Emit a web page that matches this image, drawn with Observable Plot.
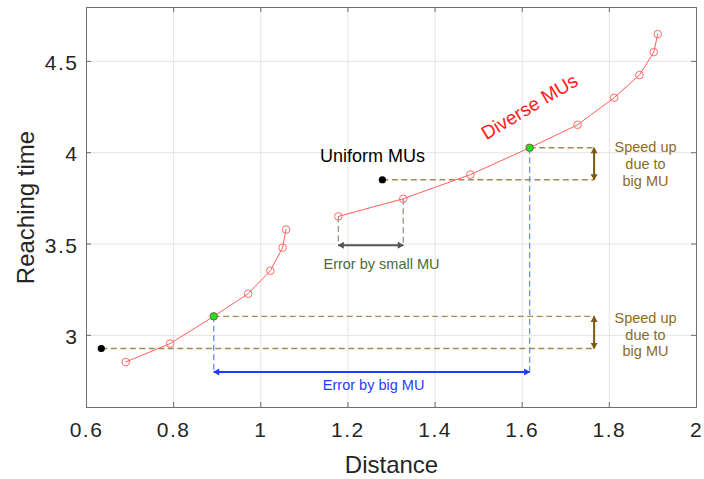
<!DOCTYPE html>
<html><head><meta charset="utf-8">
<script src="https://cdn.jsdelivr.net/npm/d3@7"></script>
<script src="https://cdn.jsdelivr.net/npm/@observablehq/plot@0.6"></script>
<style>
body{margin:0;background:#fff;}
#chart svg{display:block;}
g[aria-label="x-axis tick label"] text, g[aria-label="y-axis tick label"] text{letter-spacing:1.5px;}
g[aria-label="x-title"] text{letter-spacing:1px;}
g[aria-label="y-title"] text{letter-spacing:1.5px;}
</style></head><body><div id="chart"></div>
<script>
// ---- data ----
const xTicks = [0.6, 0.8, 1, 1.2, 1.4, 1.6, 1.8, 2];
const yTicks = [3, 3.5, 4, 4.5];

// Diverse MUs, first run (lower-left curve)
const firstDist = [0.690, 0.792, 0.892, 0.971, 1.022, 1.050, 1.058];
const firstTime = [2.854, 2.955, 3.104, 3.228, 3.354, 3.480, 3.579];
// Diverse MUs, second run (middle / upper-right curve)
const secondDist = [1.178, 1.327, 1.481, 1.617, 1.727, 1.811, 1.869, 1.902, 1.911];
const secondTime = [3.651, 3.748, 3.880, 4.027, 4.153, 4.301, 4.425, 4.551, 4.649];
// Uniform MUs
const uniformDist = [0.634, 1.279];
const uniformTime = [2.928, 3.852];
// index of the "big MU" point (green) in each diverse run
const bigIdxFirst = 2, bigIdxSecond = 3;
// annotation levels
const speedUpDist = 1.765;
const smallErrTime = 3.493;
const bigErrTime = 2.80;

// annotation labels
const labelText = ["Diverse MUs", "Uniform MUs", "Error by small MU", "Error by big MU", "Speed up\ndue to\nbig MU", "Speed up\ndue to\nbig MU"];
const labelDist = [1.617, 1.2565, 1.277, 1.259, 1.883, 1.883];
const labelTime = [4.25, 3.98, 3.389, 2.726, 3.007, 3.939];

// ---- build tables ----
const diverse = firstDist.map((d, i) => ({x: d, y: firstTime[i], run: 1}))
  .concat(secondDist.map((d, i) => ({x: d, y: secondTime[i], run: 2})));
const uniform = uniformDist.map((d, i) => ({x: d, y: uniformTime[i]}));
const green = [{x: firstDist[bigIdxFirst], y: firstTime[bigIdxFirst]}, {x: secondDist[bigIdxSecond], y: secondTime[bigIdxSecond]}];
const labels = labelText.map((t, i) => ({t, x: labelDist[i], y: labelTime[i]}));

const brownGuides = [uniform[0], uniform[1], green[0], green[1]].map(p => ({x1: p.x, x2: speedUpDist, y: p.y}));
const blueGuides = green.map(p => ({x: p.x, y1: p.y, y2: bigErrTime}));
const smallGuides = [0, 1].map(i => ({x: secondDist[i], y1: secondTime[i], y2: smallErrTime}));

const bigArrow = [{x1: green[0].x, x2: green[1].x, y: bigErrTime}];
const smallArrow = [{x1: secondDist[0], x2: secondDist[1], y: smallErrTime}];
const speedArrows = [{x: speedUpDist, y1: uniform[0].y, y2: green[0].y}, {x: speedUpDist, y1: uniform[1].y, y2: green[1].y}];

const innerW = 704 - 86 - 8, innerH = 479 - 7 - 72;
const brown = "#a38a52", brownDark = "#7a5a08", speedTxt = "#8c6c1c";
const blue = "#1f3dff", blueLight = "#6d8cff";

function hHeads(data, color) {
  return [
    Plot.dot(data, {x: "x1", y: "y", symbol: "triangle", rotate: -90, r: 2.6, fill: color, stroke: "none", dx: 3.5}),
    Plot.dot(data, {x: "x2", y: "y", symbol: "triangle", rotate: 90, r: 2.6, fill: color, stroke: "none", dx: -3.5})
  ];
}

const chart = Plot.plot({
  width: 704, height: 479,
  marginLeft: 86, marginRight: 8, marginTop: 7, marginBottom: 72,
  x: {domain: [0.6, 2]},
  y: {domain: [2.605, 4.795]},
  style: {fontFamily: "'Liberation Sans', Arial, sans-serif", background: "#fff", color: "#262626"},
  marks: [
    Plot.ruleX(xTicks.slice(1, -1), {stroke: "#e4e4e4", strokeWidth: 1}),
    Plot.ruleY(yTicks, {stroke: "#e4e4e4", strokeWidth: 1}),
    Plot.link(brownGuides, {x1: "x1", x2: "x2", y1: "y", y2: "y", stroke: brown, strokeWidth: 1.3, strokeDasharray: "6,3.5"}),
    Plot.link(blueGuides, {x1: "x", x2: "x", y1: "y1", y2: "y2", stroke: blueLight, strokeWidth: 1.3, strokeDasharray: "6,3.5"}),
    Plot.link(smallGuides, {x1: "x", x2: "x", y1: "y1", y2: "y2", stroke: "#8d9c86", strokeWidth: 1.3, strokeDasharray: "6,3.5"}),
    Plot.link(bigArrow, {x1: "x1", x2: "x2", y1: "y", y2: "y", stroke: blue, strokeWidth: 2}),
    ...hHeads(bigArrow, blue),
    Plot.link(smallArrow, {x1: "x1", x2: "x2", y1: "y", y2: "y", stroke: "#555", strokeWidth: 2}),
    ...hHeads(smallArrow, "#555"),
    Plot.link(speedArrows, {x1: "x", x2: "x", y1: "y1", y2: "y2", stroke: brownDark, strokeWidth: 2}),
    Plot.dot(speedArrows, {x: "x", y: "y1", symbol: "triangle", rotate: 180, r: 2.6, fill: brownDark, stroke: "none", dy: -3.5}),
    Plot.dot(speedArrows, {x: "x", y: "y2", symbol: "triangle", rotate: 0, r: 2.6, fill: brownDark, stroke: "none", dy: 3.5}),
    Plot.line(diverse, {x: "x", y: "y", z: "run", stroke: "#ff5e5e", strokeWidth: 1}),
    Plot.dot(diverse, {x: "x", y: "y", r: 3.8, stroke: "#ff6a6a", fill: "none", strokeWidth: 1}),
    Plot.dot(uniform, {x: "x", y: "y", r: 3.6, fill: "#000", stroke: "none"}),
    Plot.dot(green, {x: "x", y: "y", r: 3.6, fill: "#25e025", stroke: "#3a7a20", strokeWidth: 0.8}),
    Plot.text(labels.slice(0, 1), {x: "x", y: "y", text: "t", rotate: -31, fill: "#ff1a1a", fontSize: 19}),
    Plot.text(labels.slice(1, 2), {x: "x", y: "y", text: "t", fill: "#000", fontSize: 18}),
    Plot.text(labels.slice(2, 3), {x: "x", y: "y", text: "t", fill: "#4b6a36", fontSize: 14.5}),
    Plot.text(labels.slice(3, 4), {x: "x", y: "y", text: "t", fill: "#1f3dff", fontSize: 14.5}),
    Plot.text(labels.slice(4, 6), {x: "x", y: "y", text: "t", fill: speedTxt, fontSize: 14.5, lineHeight: 1.17}),
    Plot.frame({stroke: "#6e6e6e", strokeWidth: 1}),
    Plot.ruleX(xTicks, {stroke: "#6e6e6e", insetTop: innerH - 5}),
    Plot.ruleX(xTicks, {stroke: "#6e6e6e", insetBottom: innerH - 5}),
    Plot.ruleY(yTicks, {stroke: "#6e6e6e", insetRight: innerW - 5}),
    Plot.ruleY(yTicks, {stroke: "#6e6e6e", insetLeft: innerW - 5}),
    Plot.axisX(xTicks, {tickSize: 0, tickPadding: 15, fontSize: 21, tickFormat: d => String(d), label: null}),
    Plot.axisY(yTicks, {tickSize: 0, tickPadding: 8, fontSize: 21, tickFormat: d => String(d), label: null, dy: 2}),
    Plot.text(["Distance"], {text: d => d, frameAnchor: "bottom", dy: 65, lineAnchor: "bottom", textAnchor: "middle", fontSize: 24, fill: "#262626", ariaLabel: "x-title"}),
    Plot.text(["Reaching time"], {text: d => d, frameAnchor: "left", dx: -53, rotate: -90, lineAnchor: "bottom", textAnchor: "middle", fontSize: 24, fill: "#262626", ariaLabel: "y-title"})
  ]
});
document.getElementById("chart").appendChild(chart);
</script></body></html>
